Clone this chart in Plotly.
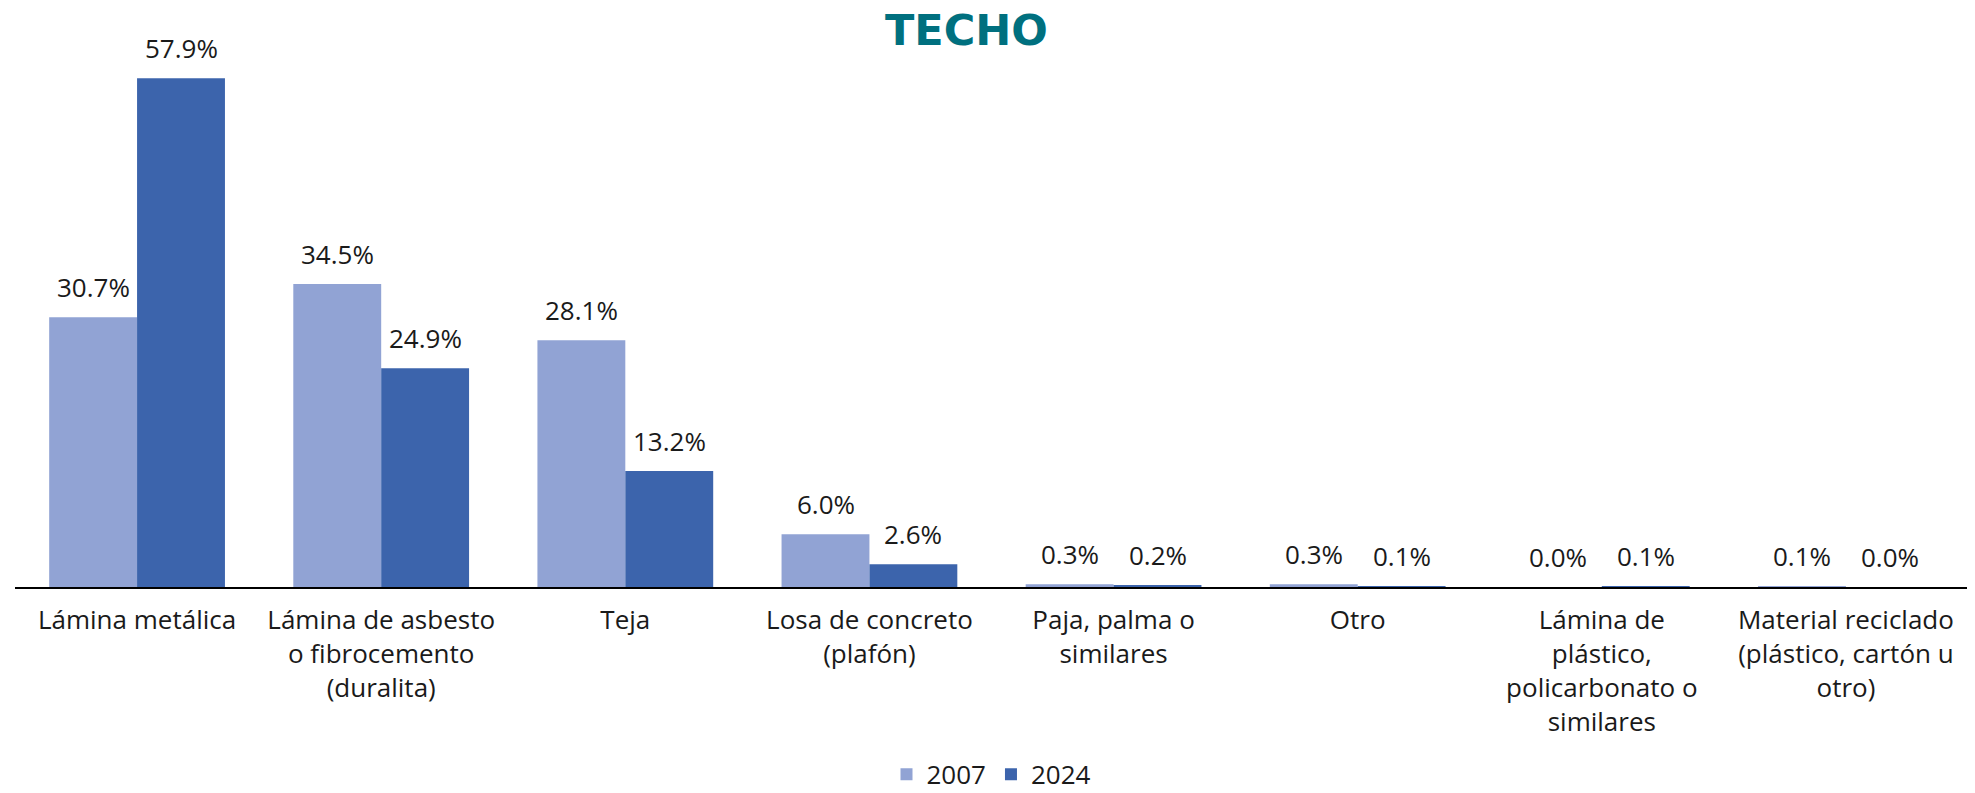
import plotly.graph_objects as go

categories = [
    "Lámina metálica",
    "Lámina de asbesto<br>o fibrocemento<br>(duralita)",
    "Teja",
    "Losa de concreto<br>(plafón)",
    "Paja, palma o<br>similares",
    "Otro",
    "Lámina de<br>plástico,<br>policarbonato o<br>similares",
    "Material reciclado<br>(plástico, cartón u<br>otro)",
]
series_names = ["2007", "2024"]
values_2007 = [30.7, 34.5, 28.1, 6.0, 0.3, 0.3, 0.0, 0.1]
values_2024 = [57.9, 24.9, 13.2, 2.6, 0.2, 0.1, 0.1, 0.0]

colors = ["#91A3D4", "#3C64AC"]
FONT = "Open Sans"
TXT = "#1a1a1a"

fig = go.Figure()
for name, vals, col in zip(series_names, [values_2007, values_2024], colors):
    fig.add_trace(go.Bar(
        name=name, x=list(range(len(categories))), y=vals,
        marker=dict(color=col, line=dict(width=0)),
    ))

# data labels above bars
half = (1 - 0.28) / 4
for k, vals in enumerate([values_2007, values_2024]):
    off = -half if k == 0 else half
    for i, v in enumerate(vals):
        fig.add_annotation(
            x=i + off, y=v, xref="x", yref="y", text=f"{v:.1f}%",
            showarrow=False, yanchor="bottom", yshift=10,
            font=dict(family=FONT, size=26, color=TXT),
        )

fig.add_annotation(
    text="<b>TECHO</b>", xref="paper", yref="paper", x=0.487, y=1.0,
    yshift=-14, yanchor="middle", showarrow=False,
    font=dict(family="DejaVu Sans", size=43, color="#00707F"),
)

# page has an 8px body margin, so the figure is sized to fit the window
fig.update_layout(
    width=1967, height=785,
    margin=dict(l=7, r=7, t=8, b=206, autoexpand=False),
    plot_bgcolor="rgba(0,0,0,0)", paper_bgcolor="white",
    barmode="group", bargap=0.28, bargroupgap=0,
    showlegend=True,
    legend=dict(orientation="h", x=0.5, xanchor="center", yref="paper",
                y=-0.328, yanchor="middle",
                font=dict(family=FONT, size=26, color=TXT),
                itemwidth=30, traceorder="normal"),
    font=dict(family=FONT, size=26, color=TXT),
)
fig.update_xaxes(
    tickmode="array", tickvals=list(range(len(categories))), ticktext=categories,
    range=[-0.5, len(categories) - 0.5], automargin=False,
    showline=True, linecolor="black", linewidth=2,
    ticks="outside", ticklen=9, tickcolor="rgba(0,0,0,0)", showgrid=False,
    tickfont=dict(family=FONT, size=26, color=TXT), zeroline=False,
)
fig.update_yaxes(range=[0, 65], visible=False, showgrid=False, automargin=False)

fig.write_html("out.html")
